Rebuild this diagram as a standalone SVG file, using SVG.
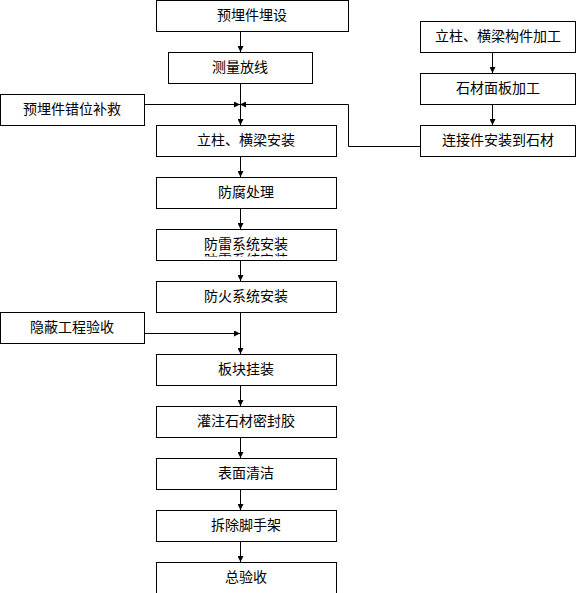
<svg xmlns="http://www.w3.org/2000/svg" width="576" height="593" viewBox="0 0 576 593">
<style>
.box rect{fill:#fff;stroke:#000;stroke-width:1}
text{font-family:"Noto Sans CJK SC","Liberation Sans",sans-serif;font-size:14px;fill:#000;text-anchor:middle}
.c{fill:none;stroke:#000;stroke-width:1}
</style>
<defs>
<marker id="a" markerWidth="6" markerHeight="6" refX="6" refY="3" orient="auto" markerUnits="userSpaceOnUse">
<path d="M0,0 L6,3 L0,6 z" fill="#000"/>
</marker>
<clipPath id="cl"><rect x="156" y="250" width="180" height="6.5"/></clipPath>
</defs>
<rect width="576" height="593" fill="#fff"/>
<g id="connectors">
<path class="c" d="M240.5,31 V52" marker-end="url(#a)"/>
<path class="c" d="M240.5,83 V125" marker-end="url(#a)"/>
<path class="c" d="M144,104.5 H240" marker-end="url(#a)"/>
<path class="c" d="M420,146.5 H348.5 V104.5 H240" marker-end="url(#a)"/>
<path class="c" d="M492.5,52 V73" marker-end="url(#a)"/>
<path class="c" d="M492.5,104 V125" marker-end="url(#a)"/>
<path class="c" d="M240.5,156 V177" marker-end="url(#a)"/>
<path class="c" d="M240.5,208 V229" marker-end="url(#a)"/>
<path class="c" d="M240.5,260 V281" marker-end="url(#a)"/>
<path class="c" d="M240.5,312 V354" marker-end="url(#a)"/>
<path class="c" d="M144,333.5 H240" marker-end="url(#a)"/>
<path class="c" d="M240.5,385 V406" marker-end="url(#a)"/>
<path class="c" d="M240.5,437 V458" marker-end="url(#a)"/>
<path class="c" d="M240.5,489 V510" marker-end="url(#a)"/>
<path class="c" d="M240.5,541 V562" marker-end="url(#a)"/>
</g>
<g id="n1" class="box"><rect x="156.5" y="0.5" width="192" height="31"/><text x="252" y="20">预埋件埋设</text></g>
<g id="n2" class="box"><rect x="168.5" y="52.5" width="144" height="31"/><text x="240" y="72">测量放线</text></g>
<g id="n3" class="box"><rect x="0.5" y="94.5" width="144" height="31"/><text x="72" y="114">预埋件错位补救</text></g>
<g id="n4" class="box"><rect x="156.5" y="125.5" width="180" height="31"/><text x="246" y="145">立柱、横梁安装</text></g>
<g id="r1" class="box"><rect x="420.5" y="21.5" width="155" height="31"/><text x="498" y="41">立柱、横梁构件加工</text></g>
<g id="r2" class="box"><rect x="420.5" y="73.5" width="155" height="31"/><text x="498" y="93">石材面板加工</text></g>
<g id="r3" class="box"><rect x="420.5" y="125.5" width="155" height="31"/><text x="498" y="145">连接件安装到石材</text></g>
<g id="n5" class="box"><rect x="156.5" y="177.5" width="180" height="31"/><text x="246" y="197">防腐处理</text></g>
<g id="n6" class="box"><rect x="156.5" y="229.5" width="180" height="31"/><text x="246" y="249">防雷系统安装</text><text x="246" y="265" clip-path="url(#cl)">防雷系统安装</text></g>
<g id="n7" class="box"><rect x="156.5" y="281.5" width="180" height="31"/><text x="246" y="301">防火系统安装</text></g>
<g id="n8" class="box"><rect x="0.5" y="312.5" width="144" height="31"/><text x="72" y="332">隐蔽工程验收</text></g>
<g id="n9" class="box"><rect x="156.5" y="354.5" width="180" height="31"/><text x="246" y="374">板块挂装</text></g>
<g id="n10" class="box"><rect x="156.5" y="406.5" width="180" height="31"/><text x="246" y="426">灌注石材密封胶</text></g>
<g id="n11" class="box"><rect x="156.5" y="458.5" width="180" height="31"/><text x="246" y="478">表面清洁</text></g>
<g id="n12" class="box"><rect x="156.5" y="510.5" width="180" height="31"/><text x="246" y="530">拆除脚手架</text></g>
<g id="n13" class="box"><rect x="156.5" y="562.5" width="180" height="40"/><text x="246" y="582">总验收</text></g>
</svg>
